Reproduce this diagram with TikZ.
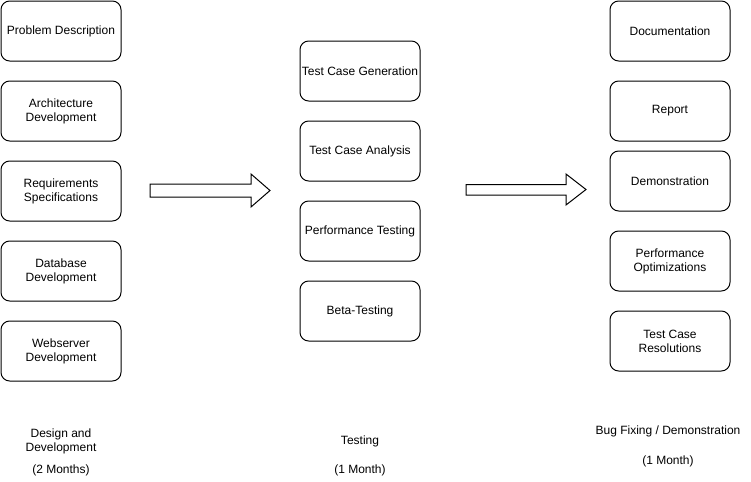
\documentclass[tikz,border=0pt]{standalone}
\usepackage{fontspec}
\setmainfont{Liberation Sans}
\begin{document}
\begin{tikzpicture}[x=0.75pt,y=-0.75pt,
  box/.style={draw=black,line width=0.75pt,rounded corners=6.5pt,minimum width=90pt,minimum height=45pt,align=center,inner sep=0pt,font=\fontsize{9}{10.5}\selectfont},
  lbl/.style={align=center,inner sep=0pt,font=\fontsize{9}{10.5}\selectfont},
  blockarrow/.style={draw=black,line width=0.75pt,fill=white}]
\useasboundingbox (0,0) rectangle (751,482);
% left column
\node[box] (pd) at (61,31) {Problem Description};
\node[box] (ad) at (61,111) {Architecture\\Development};
\node[box] (rs) at (61,191) {Requirements\\Specifications};
\node[box] (dd) at (61,271) {Database\\Development};
\node[box] (wd) at (61,351) {Webserver\\Development};
% middle column
\node[box] (tcg) at (360,71) {Test Case Generation};
\node[box] (tca) at (360,151) {Test Case Analysis};
\node[box] (pt) at (360,231) {Performance Testing};
\node[box] (bt) at (360,311) {Beta-Testing};
% right column
\node[box] (doc) at (670,31) {Documentation};
\node[box] (rep) at (670,111) {Report};
\node[box] (dem) at (670,181) {Demonstration};
\node[box] (po) at (670,261) {Performance\\Optimizations};
\node[box] (tcr) at (670,341) {Test Case\\Resolutions};
% block arrows
\draw[blockarrow] (150,184) -- (251,184) -- (251,174) -- (270,190.5) -- (251,207) -- (251,197) -- (150,197) -- cycle;
\draw[blockarrow] (466,184.5) -- (566,184.5) -- (566,174) -- (586,189.5) -- (566,205) -- (566,195) -- (466,195) -- cycle;
% phase labels
\node[lbl] (l1) at (61,441) {Design and\\Development};
\node[lbl] (l1m) at (61,470) {(2 Months)};
\node[lbl] (l2) at (360,441) {Testing};
\node[lbl] (l2m) at (360,470) {(1 Month)};
\node[lbl] (l3) at (668,431) {Bug Fixing / Demonstration};
\node[lbl] (l3m) at (668,461) {(1 Month)};
\end{tikzpicture}
\end{document}
